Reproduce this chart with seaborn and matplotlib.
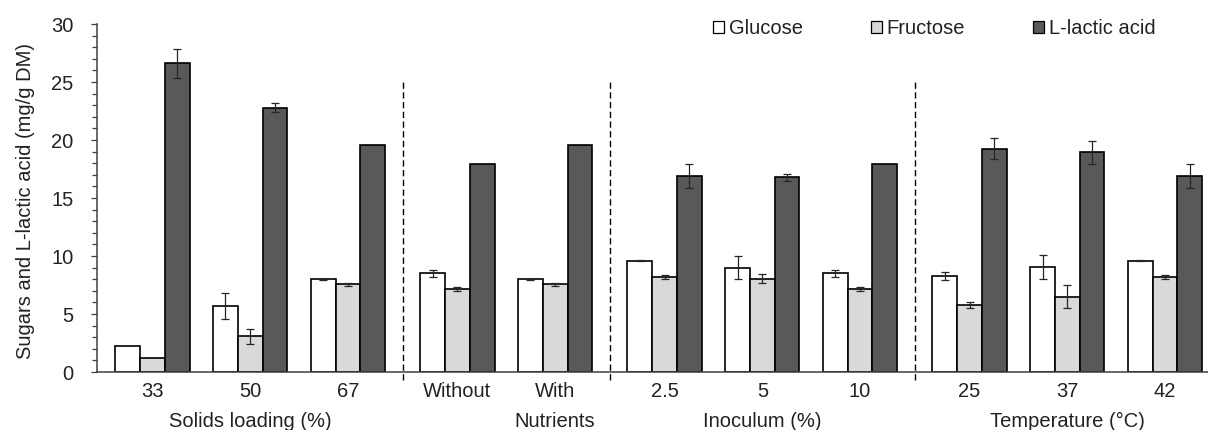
import numpy as np
import pandas as pd
import matplotlib
matplotlib.use("Agg")
import matplotlib.pyplot as plt
from matplotlib.patches import Patch
from matplotlib.ticker import MultipleLocator
import seaborn as sns

# Experimental conditions, grouped by the factor that was varied
conditions = ["33", "50", "67", "Without", "With", "2.5", "5", "10", "25", "37", "42"]
factor_of_condition = [0, 0, 0, 1, 1, 2, 2, 2, 3, 3, 3]
factor_names = ["Solids loading (%)", "Nutrients", "Inoculum (%)", "Temperature (\u00b0C)"]

series_names = ["Glucose", "Fructose", "L-lactic acid"]

# Mean concentrations (mg/g DM) and standard deviations
glucose = [2.25, 5.7, 8.0, 8.5, 8.0, 9.6, 9.0, 8.5, 8.3, 9.05, 9.6]
glucose_sd = [0.0, 1.1, 0.04, 0.3, 0.04, 0.06, 1.0, 0.3, 0.35, 1.0, 0.06]
fructose = [1.25, 3.1, 7.55, 7.15, 7.55, 8.2, 8.05, 7.15, 5.75, 6.5, 8.2]
fructose_sd = [0.0, 0.65, 0.12, 0.15, 0.1, 0.15, 0.4, 0.15, 0.25, 1.0, 0.15]
lactic = [26.6, 22.8, 19.6, 17.95, 19.6, 16.9, 16.8, 17.95, 19.25, 18.95, 16.9]
lactic_sd = [1.25, 0.4, 0.0, 0.0, 0.0, 1.05, 0.3, 0.0, 0.9, 1.0, 1.05]

values = [glucose, fructose, lactic]
errors = [glucose_sd, fructose_sd, lactic_sd]
colors = {"Glucose": "#ffffff", "Fructose": "#d9d9d9", "L-lactic acid": "#595959"}

# x positions: one unit per condition, with a small extra gap between factors
factor_gap = 0.12
positions = np.arange(len(conditions)) + factor_gap * np.array(factor_of_condition)

df = pd.DataFrame({
    "pos": np.tile(positions, len(series_names)),
    "series": np.repeat(series_names, len(conditions)),
    "value": np.concatenate(values),
})

sns.set_style("ticks")
plt.rcParams["font.family"] = ["Liberation Sans", "DejaVu Sans"]
plt.rcParams["font.size"] = 14.5

W, H = 1208, 430
fig = plt.figure(figsize=(W / 100, H / 100), dpi=100)
ax = fig.add_axes([97 / W, 58 / H, (W - 97) / W, 348 / H])

sns.barplot(
    data=df, x="pos", y="value", hue="series", hue_order=series_names,
    palette=colors, native_scale=True, width=0.76, saturation=1,
    edgecolor="black", linewidth=1.2, errorbar=None, legend=False, ax=ax,
)

# Error bars on top of each bar, positioned from the drawn rectangles
for container, sd in zip(ax.containers, errors):
    for bar, e in zip(container.patches, sd):
        if e <= 0:
            continue
        cx = bar.get_x() + bar.get_width() / 2
        ax.errorbar(cx, bar.get_height(), yerr=e, fmt="none",
                    ecolor="#262626", elinewidth=0.9, capsize=3.2,
                    capthick=0.9, zorder=5)

# Dashed separators between factors
sep_x = [(positions[i] + positions[i + 1]) / 2
         for i in range(len(conditions) - 1)
         if factor_of_condition[i] != factor_of_condition[i + 1]]
ax.vlines(sep_x, -0.7, 25, colors="black", linestyles=(0, (4.5, 2.5)),
          linewidth=1.0, clip_on=False, zorder=1)

# Axes
ax.set_ylim(0, 30)
ax.set_xlim(-0.568, 10.80)
ax.yaxis.set_major_locator(MultipleLocator(5))
ax.yaxis.set_minor_locator(MultipleLocator(1))
ax.tick_params(axis="y", which="major", direction="out", length=4.3, width=0.9,
               color="#404040", pad=12.5, labelsize=14.5, labelcolor="#222222")
ax.tick_params(axis="y", which="minor", direction="out", length=3.6, width=0.9,
               color="#404040")
ax.set_xticks(positions)
ax.set_xticklabels(conditions)
ax.tick_params(axis="x", length=0, pad=7, labelsize=14.5, labelcolor="#222222")
ax.set_xlabel("")
for side in ("top", "right"):
    ax.spines[side].set_visible(False)
for side in ("left", "bottom"):
    ax.spines[side].set_color("#404040")
    ax.spines[side].set_linewidth(1.1)

# Factor names below the condition labels
for f, name in enumerate(factor_names):
    idx = [i for i, g in enumerate(factor_of_condition) if g == f]
    anchor = positions[idx[len(idx) // 2]]
    ax.annotate(name, xy=(anchor, 0), xycoords=("data", "axes fraction"),
                xytext=(0, -39.5), textcoords="offset points",
                ha="center", va="baseline", fontsize=14.5, color="#222222",
                annotation_clip=False)

ax.set_ylabel("Sugars and L-lactic acid (mg/g DM)", fontsize=14.5, color="#222222")
ax.yaxis.set_label_coords(-0.0648, 0.49)
ax.yaxis.label.set_va("center")

handles = [Patch(facecolor=colors[s], edgecolor="black", linewidth=0.9) for s in series_names]
ax.legend(handles, series_names, loc="center left",
          bbox_to_anchor=(713 / W, 1 - 28.5 / H), bbox_transform=fig.transFigure,
          ncol=3, frameon=False, borderpad=0, borderaxespad=0,
          handlelength=0.55, handleheight=0.55, handletextpad=0.25,
          columnspacing=3.35, fontsize=14.5, labelcolor="#222222")

fig.savefig("out.png", dpi=100)
